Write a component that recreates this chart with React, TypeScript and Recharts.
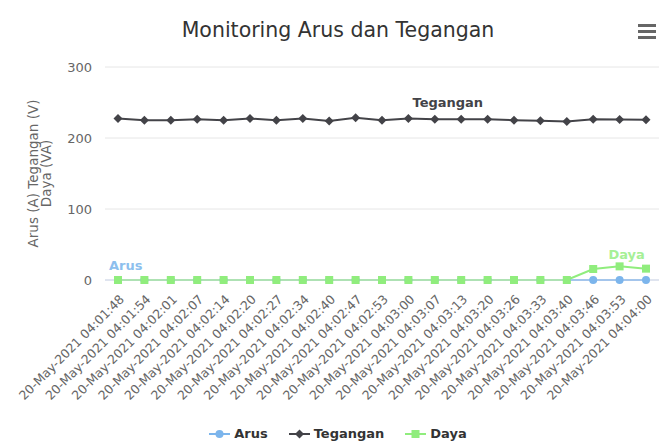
import React from 'react';
import { LineChart, Line, XAxis, YAxis, CartesianGrid, Legend } from 'recharts';

const times = [
  '20-May-2021 04:01:48', '20-May-2021 04:01:54', '20-May-2021 04:02:01', '20-May-2021 04:02:07',
  '20-May-2021 04:02:14', '20-May-2021 04:02:20', '20-May-2021 04:02:27', '20-May-2021 04:02:34',
  '20-May-2021 04:02:40', '20-May-2021 04:02:47', '20-May-2021 04:02:53', '20-May-2021 04:03:00',
  '20-May-2021 04:03:07', '20-May-2021 04:03:13', '20-May-2021 04:03:20', '20-May-2021 04:03:26',
  '20-May-2021 04:03:33', '20-May-2021 04:03:40', '20-May-2021 04:03:46', '20-May-2021 04:03:53',
  '20-May-2021 04:04:00',
];
const arus = [0, 0, 0, 0, 0, 0, 0, 0, 0, 0, 0, 0, 0, 0, 0, 0, 0, 0, 0.07, 0.08, 0.07];
const tegangan = [227.4, 225, 225, 226.4, 225, 227.4, 225, 227.4, 223.8, 228.4, 225, 227.4, 226.4, 226.4, 226.4, 225, 224.2, 223.2, 226.4, 226, 225.6];
const daya = [0, 0, 0, 0, 0, 0, 0, 0, 0, 0, 0, 0, 0, 0, 0, 0, 0, 0, 15.5, 19.2, 16];
const yTicks = [0, 100, 200, 300];

const data = times.map((t, i) => ({ time: t, Arus: arus[i], Tegangan: tegangan[i], Daya: daya[i] }));

const FONT = '"DejaVu Sans", Verdana, sans-serif';
const C_ARUS = '#7cb5ec';
const C_TEG = '#434348';
const C_DAYA = '#90ed7d';

const ArusDot = (p: any) => {
  const { cx, cy, index } = p;
  if (cx == null || cy == null) return <g key={`a${index}`} />;
  return (
    <g key={`a${index}`}>
      <circle cx={cx} cy={cy} r={4} fill={C_ARUS} />
      {index === 0 && (
        <text x={cx - 9} y={cy - 10} fill="#8dbfee" fontSize={13} fontWeight="bold" fontFamily={FONT}>Arus</text>
      )}
    </g>
  );
};

const TegDot = (p: any) => {
  const { cx, cy, index } = p;
  if (cx == null || cy == null) return <g key={`t${index}`} />;
  const s = 4.5;
  return (
    <g key={`t${index}`}>
      <path d={`M${cx} ${cy - s}L${cx + s} ${cy}L${cx} ${cy + s}L${cx - s} ${cy}Z`} fill={C_TEG} />
      {index === 12 && (
        <text x={cx + 13} y={cy - 12} textAnchor="middle" fill={C_TEG} fontSize={13} fontWeight="bold" fontFamily={FONT}>Tegangan</text>
      )}
    </g>
  );
};

const DayaDot = (p: any) => {
  const { cx, cy, index } = p;
  if (cx == null || cy == null) return <g key={`d${index}`} />;
  return (
    <g key={`d${index}`}>
      <rect x={cx - 4} y={cy - 4} width={8} height={8} fill={C_DAYA} />
      {index === 19 && (
        <text x={cx + 7} y={cy - 7} textAnchor="middle" fill="#a6f096" fontSize={13} fontWeight="bold" fontFamily={FONT}>Daya</text>
      )}
    </g>
  );
};

const XTick = (p: any) => {
  const { x, y, payload } = p;
  return (
    <text
      transform={`translate(${x + 7}, ${y + 20}) rotate(-45)`}
      textAnchor="end"
      fill="#666666"
      fontSize={12.5}
      fontFamily={FONT}
    >
      {payload.value}
    </text>
  );
};

const YLabel = (p: any) => {
  const vb = p.viewBox || { x: 0, y: 67, width: 105, height: 213 };
  const cy = vb.y + vb.height / 2;
  return (
    <g>
      <text transform={`translate(${vb.x + 33}, ${cy}) rotate(-90)`} textAnchor="middle" dominantBaseline="central" fill="#666666" fontSize={13.5} fontFamily={FONT}>
        Arus (A) Tegangan (V)
      </text>
      <text transform={`translate(${vb.x + 46}, ${cy}) rotate(-90)`} textAnchor="middle" dominantBaseline="central" fill="#666666" fontSize={13.5} fontFamily={FONT}>
        Daya (VA)
      </text>
    </g>
  );
};

const legendItems = [
  { name: 'Arus', color: C_ARUS, shape: 'circle' },
  { name: 'Tegangan', color: C_TEG, shape: 'diamond' },
  { name: 'Daya', color: C_DAYA, shape: 'square' },
];

const LegendContent = () => (
  <div style={{ display: 'flex', justifyContent: 'center', alignItems: 'center', marginLeft: 17, height: 16 }}>
    {legendItems.map((it, i) => (
      <div key={it.name} style={{ display: 'flex', alignItems: 'center', marginLeft: i === 0 ? 0 : 21 }}>
        <svg width={21} height={12}>
          <line x1={0} y1={6} x2={21} y2={6} stroke={it.color} strokeWidth={2} />
          {it.shape === 'circle' && <circle cx={10.5} cy={6} r={4} fill={it.color} />}
          {it.shape === 'diamond' && <path d="M10.5 1.5L15 6L10.5 10.5L6 6Z" fill={it.color} />}
          {it.shape === 'square' && <rect x={6.5} y={2} width={8} height={8} fill={it.color} />}
        </svg>
        <span style={{ marginLeft: 4, fontSize: 13, fontWeight: 'bold', color: '#333333', fontFamily: FONT, lineHeight: '16px' }}>
          {it.name}
        </span>
      </div>
    ))}
  </div>
);

export default function App() {
  return (
    <div style={{ position: 'absolute', left: 0, top: 0, width: 659, height: 442, background: '#ffffff', fontFamily: FONT, overflow: 'hidden' }}>
      <div style={{ position: 'absolute', left: 0, top: 18, width: 676, textAlign: 'center', fontSize: 20.5, lineHeight: '24px', color: '#333333', fontFamily: FONT, zIndex: 2 }}>
        Monitoring Arus dan Tegangan
      </div>
      <svg style={{ position: 'absolute', left: 638, top: 23, zIndex: 2 }} width={18} height={16}>
        <rect x={0} y={1} width={18} height={3} fill="#666666" />
        <rect x={0} y={7} width={18} height={3} fill="#666666" />
        <rect x={0} y={13} width={18} height={3} fill="#666666" />
      </svg>
      <LineChart width={659} height={442} data={data} margin={{ top: 67, right: 0, bottom: 0, left: 0 }}>
        <CartesianGrid horizontal vertical={false} stroke="#e6e6e6" />
        <XAxis
          dataKey="time"
          height={162}
          interval={0}
          tickLine={false}
          axisLine={{ stroke: '#ccd6eb' }}
          tickSize={0}
          tickMargin={0}
          padding={{ left: 13, right: 13 }}
          tick={<XTick />}
        />
        <YAxis
          width={105}
          domain={[0, 300]}
          ticks={yTicks}
          axisLine={false}
          tickLine={false}
          tickSize={0}
          tickMargin={13}
          tick={{ fill: '#666666', fontSize: 13, fontFamily: FONT }}
          label={<YLabel />}
        />
        <Legend
          layout="horizontal"
          verticalAlign="middle"
          align="center"
          content={<LegendContent />}
          wrapperStyle={{ top: 426, left: 0, bottom: 'auto', width: 659, height: 16 }}
        />
        <Line dataKey="Arus" stroke={C_ARUS} strokeWidth={2} dot={ArusDot} activeDot={false} isAnimationActive={false} />
        <Line dataKey="Tegangan" stroke={C_TEG} strokeWidth={2} dot={TegDot} activeDot={false} isAnimationActive={false} />
        <Line dataKey="Daya" stroke={C_DAYA} strokeWidth={2} dot={DayaDot} activeDot={false} isAnimationActive={false} />
      </LineChart>
    </div>
  );
}
